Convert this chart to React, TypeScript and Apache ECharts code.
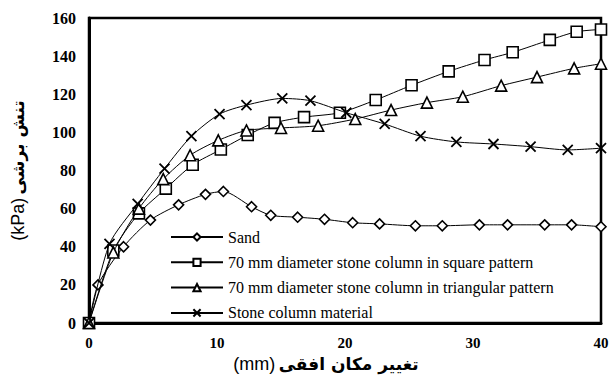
import React, { useEffect, useRef } from "react";
import * as echarts from "echarts";

const seriesNames = [
  "Sand",
  "70 mm diameter stone column in square pattern",
  "70 mm diameter stone column in triangular pattern",
  "Stone column material",
];

const sand: [number, number][] = [
  [0, 0], [0.7, 20], [2.7, 40], [4.8, 54], [7.0, 62], [9.1, 67.5], [10.5, 69],
  [12.7, 61], [14.2, 56.5], [16.3, 55.5], [18.4, 54.4], [20.6, 52.6], [22.7, 52],
  [25.5, 51], [27.6, 51], [30.5, 51.5], [32.7, 51.5], [35.6, 51.5], [37.7, 51.5], [40, 50.5],
];

const squarePattern: [number, number][] = [
  [0, 0], [1.9, 38], [3.9, 57.5], [6.0, 70.5], [8.1, 83], [10.3, 91], [12.4, 98.6],
  [14.5, 105], [16.8, 108], [19.6, 110.3], [22.4, 117], [25.2, 124.7], [28.1, 132],
  [30.9, 138], [33.1, 142], [36, 148.5], [38.1, 152.8], [40, 154],
];

const triangularPattern: [number, number][] = [
  [0, 0], [1.9, 37], [3.9, 60], [5.8, 75.5], [7.9, 88], [10.1, 95.8], [12.3, 101],
  [15.0, 102.3], [17.9, 103.5], [20.8, 107], [23.6, 111.7], [26.4, 115.6], [29.2, 118.7],
  [32.2, 124.5], [35, 129], [37.9, 133.6], [40, 136],
];

const stoneMaterial: [number, number][] = [
  [0, 0], [1.6, 41.5], [3.8, 62.5], [5.9, 81], [8, 98], [10.2, 109.6], [12.3, 114.3],
  [15.1, 117.8], [17.3, 116.6], [20.1, 110.3], [23.1, 104.4], [25.9, 98], [28.7, 95],
  [31.6, 93.9], [34.5, 92.5], [37.4, 90.8], [40, 91.7],
];

const xTicks = [0, 10, 20, 30, 40];
const yTicks = [0, 20, 40, 60, 80, 100, 120, 140, 160];

const xTitleFa = "تغییر مکان افقی";
const xTitleUnit = "(mm)";
const yTitleFa = "تنش برشی";
const yTitleUnit = "(kPa)";

const CROSS = "path://M0,0L10,10M10,0L0,10";

const SERIF = "'Liberation Serif', 'Times New Roman', serif";
const SANS = "'DejaVu Sans', sans-serif";
const LAT = "'Liberation Sans', Arial, sans-serif";

export default function App() {
  const ref = useRef<HTMLDivElement>(null);
  useEffect(() => {
    if (!ref.current) return;
    const chart = echarts.init(ref.current, undefined, { renderer: "svg" });
    const datasets = [sand, squarePattern, triangularPattern, stoneMaterial];
    const symbols = ["diamond", "rect", "triangle", CROSS];
    const sizes = [10, 11, 11, 10];
    const series = datasets.map((d, i) => ({
      type: "line",
      name: seriesNames[i],
      data: d,
      smooth: 0.25,
      symbol: symbols[i],
      symbolSize: sizes[i],
      showAllSymbol: true,
      lineStyle: { color: "#000", width: 1 },
      itemStyle: { color: "#fff", borderColor: "#000", borderWidth: i === 3 ? 1.8 : 1.6 },
      emphasis: { disabled: true },
      z: 2 + i,
    }));
    const titleRich = {
      fa: { fontFamily: SANS, fontWeight: "bold", fontSize: 17, color: "#000" },
      en: { fontFamily: LAT, fontWeight: "normal", fontSize: 18, color: "#000" },
    };
    chart.setOption({
      animation: false,
      grid: {
        left: 89,
        right: 13,
        top: 18,
        bottom: 55,
        show: true,
        borderColor: "#000",
        borderWidth: 2.5,
        containLabel: false,
      },
      legend: {
        orient: "vertical",
        left: 170,
        top: 229,
        padding: 0,
        itemWidth: 52,
        itemHeight: 9,
        itemGap: 9.3,
        data: seriesNames,
        textStyle: {
          fontFamily: SERIF,
          fontSize: 16,
          lineHeight: 16,
          color: "#000",
        },
      },
      xAxis: {
        type: "value",
        min: 0,
        max: 40,
        interval: 10,
        splitLine: { show: false },
        axisTick: { show: false },
        axisLine: { lineStyle: { color: "#000", width: 3 } },
        axisLabel: {
          margin: 12,
          color: "#000",
          fontWeight: "bold",
          fontSize: 15,
          fontFamily: SERIF,
          formatter: (v: number) => (xTicks.includes(v) ? String(v) : ""),
        },
        name: "{en|" + xTitleUnit + "} {fa|" + xTitleFa + "}",
        nameLocation: "middle",
        nameGap: 29,
        nameTextStyle: { rich: titleRich, padding: [0, 38, 0, 0] },
      },
      yAxis: {
        type: "value",
        min: 0,
        max: 160,
        interval: 20,
        splitLine: { show: false },
        axisTick: { show: false },
        axisLine: { lineStyle: { color: "#000", width: 3 } },
        axisLabel: {
          margin: 13,
          color: "#000",
          fontWeight: "bold",
          fontSize: 16,
          fontFamily: SERIF,
          formatter: (v: number) => (yTicks.includes(v) ? String(v) : ""),
        },
        name: "{en|" + yTitleUnit + "} {fa|" + yTitleFa + "}",
        nameLocation: "middle",
        nameRotate: 90,
        nameGap: 62,
        nameTextStyle: { rich: titleRich },
      },
      series,
    });
    return () => chart.dispose();
  }, []);
  return <div ref={ref} style={{ width: 614, height: 378, position: "absolute", left: 0, top: 0, background: "#fff" }} />;
}
